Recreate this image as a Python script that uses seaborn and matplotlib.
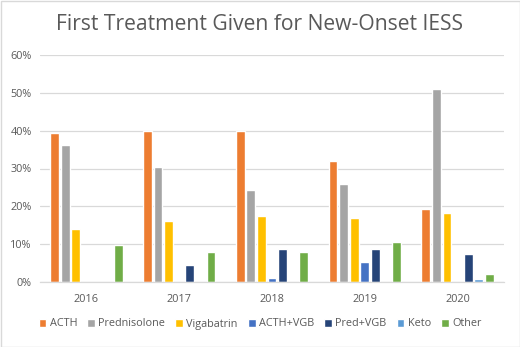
import matplotlib
matplotlib.use("Agg")
import matplotlib.pyplot as plt
import seaborn as sns
import pandas as pd
from matplotlib.ticker import PercentFormatter
from matplotlib.patches import Rectangle

years = ["2016", "2017", "2018", "2019", "2020"]
treatments = ["ACTH", "Prednisolone", "Vigabatrin", "ACTH+VGB", "Pred+VGB", "Keto", "Other"]

acth = [39.4, 40.0, 40.0, 32.1, 19.4]
prednisolone = [36.2, 30.5, 24.2, 25.8, 51.0]
vigabatrin = [14.1, 16.2, 17.5, 17.0, 18.3]
acth_vgb = [0.0, 0.0, 1.1, 5.3, 0.0]
pred_vgb = [0.0, 4.5, 8.8, 8.6, 7.5]
keto = [0.0, 0.0, 0.0, 0.0, 0.8]
other = [9.9, 8.0, 7.8, 10.7, 2.1]

colors = ["#ED7D31", "#A5A5A5", "#FFC000", "#4472C4", "#264478", "#5B9BD5", "#70AD47"]

series = [acth, prednisolone, vigabatrin, acth_vgb, pred_vgb, keto, other]
rows = []
for name, vals in zip(treatments, series):
    for yr, v in zip(years, vals):
        rows.append({"Year": yr, "Treatment": name, "Percent": v})
df = pd.DataFrame(rows)

sns.set_theme(style="white")
plt.rcParams["font.family"] = ["Open Sans", "DejaVu Sans"]

fig = plt.figure(figsize=(5.2, 3.47), dpi=100)
ax = fig.add_axes([40 / 520, 1 - 282 / 347, 464 / 520, 227 / 347])

sns.barplot(data=df, x="Year", y="Percent", hue="Treatment", hue_order=treatments,
            order=years, palette=colors, width=0.8, gap=0.16, errorbar=None,
            saturation=1, ax=ax, legend=True)

ax.set_ylim(0, 60)
ax.set_yticks(range(0, 61, 10))
ax.yaxis.set_major_formatter(PercentFormatter(decimals=0))
ax.grid(axis="y", color="#D9D9D9", linewidth=0.9)
ax.set_axisbelow(True)
for s in ["left", "right", "top"]:
    ax.spines[s].set_visible(False)
ax.spines["bottom"].set_color("#D9D9D9")
ax.spines["bottom"].set_linewidth(0.9)
ax.tick_params(axis="both", length=0, labelsize=7.8, labelcolor="#595959")
ax.tick_params(axis="x", pad=9)
ax.tick_params(axis="y", pad=6)
ax.set_xlabel("")
ax.set_ylabel("")

handles, labels = ax.get_legend_handles_labels()
ax.legend_.remove()
fig.legend(handles, labels, loc="center", bbox_to_anchor=(0.5, 1 - 324 / 347),
           ncol=7, frameon=False, fontsize=7.8, labelcolor="#595959",
           handlelength=0.7, handleheight=0.7, handletextpad=0.3, columnspacing=0.95)

fig.text(0.5, 1 - 25 / 347, "First Treatment Given for New-Onset IESS",
         ha="center", va="center", fontsize=15.2, color="#595959")

fig.patches.append(Rectangle((0.5 / 520, 0.5 / 347), 1 - 1 / 520, 1 - 1 / 347,
                             transform=fig.transFigure, fill=False,
                             edgecolor="#D9D9D9", linewidth=1))

fig.savefig("out.png", dpi=100)
